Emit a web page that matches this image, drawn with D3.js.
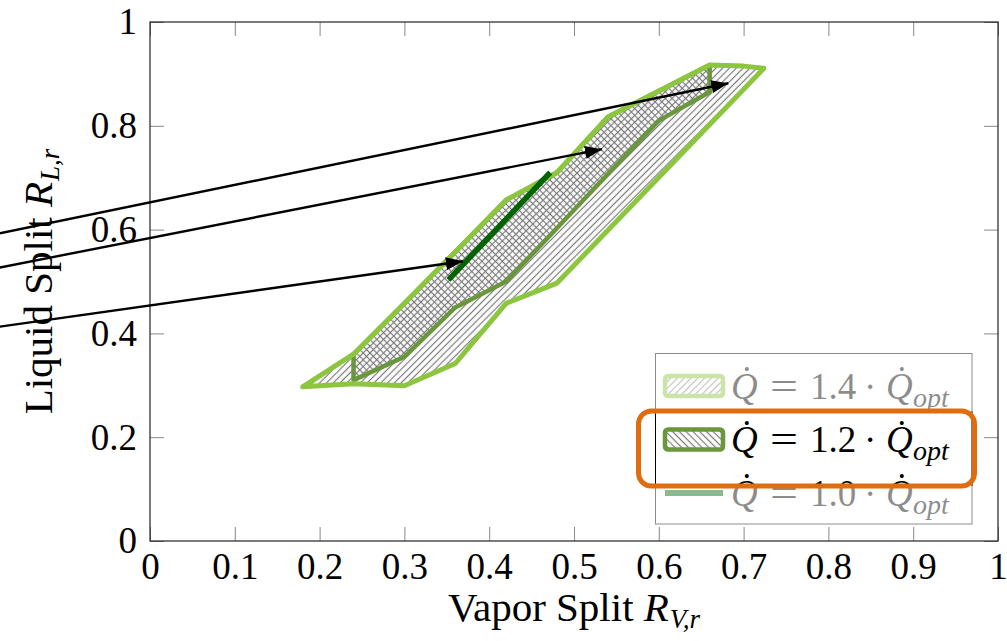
<!DOCTYPE html>
<html>
<head>
<meta charset="utf-8">
<script src="https://cdn.jsdelivr.net/npm/d3@7"></script>
<style>
  html, body { margin: 0; padding: 0; background: #fff; }
  svg { display: block; font-family: "Liberation Serif", "DejaVu Serif", serif; }
</style>
</head>
<body>
<svg id="chart" width="1007" height="641"></svg>
<script>
// Axis ticks
const xTickValues = [0, 0.1, 0.2, 0.3, 0.4, 0.5, 0.6, 0.7, 0.8, 0.9, 1];
const xTickLabels = ["0", "0.1", "0.2", "0.3", "0.4", "0.5", "0.6", "0.7", "0.8", "0.9", "1"];
const yTickValues = [0, 0.2, 0.4, 0.6, 0.8, 1];
const yTickLabels = ["0", "0.2", "0.4", "0.6", "0.8", "1"];

// Feasible split region for Q = 1.4 Q_opt (vapor split, liquid split)
const region14 = [
  [0.18, 0.297], [0.24, 0.36], [0.30, 0.458], [0.36, 0.557], [0.42, 0.657],
  [0.48, 0.71], [0.54, 0.817], [0.60, 0.867], [0.66, 0.917], [0.70, 0.915],
  [0.724, 0.911], [0.48, 0.497], [0.42, 0.458], [0.36, 0.342], [0.30, 0.299],
  [0.24, 0.303]
];

// Feasible split region for Q = 1.2 Q_opt
const region12 = [
  [0.24, 0.31], [0.30, 0.355], [0.36, 0.45], [0.42, 0.50], [0.48, 0.603],
  [0.54, 0.707], [0.60, 0.81], [0.66, 0.865], [0.66, 0.917], [0.60, 0.867],
  [0.54, 0.817], [0.48, 0.71], [0.42, 0.657], [0.36, 0.557], [0.30, 0.458],
  [0.24, 0.36]
];

// Feasible split line for Q = 1.0 Q_opt
const line10 = [[0.352, 0.503], [0.472, 0.71]];

// Arrows coming in from the left
const arrowStarts = [[-0.2, 0.585], [-0.2, 0.5196], [-0.2, 0.4077]];
const arrowEnds = [[0.682, 0.882], [0.533, 0.755], [0.369, 0.539]];

// Legend
const legendFactors = ["1.4", "1.2", "1.0"];
const legendKinds = ["area14", "area12", "line10"];

const colors = {
  light: "#8cc63f",
  olive: "#6a963c",
  dark: "#006400",
  hatch: "#7a7a7a",
  orange: "#e06c10"
};

const svg = d3.select("#chart");
const W = 1007, H = 641;
const margin = { left: 150, right: 9, top: 22, bottom: 100 };

const x = d3.scaleLinear().domain([0, 1]).range([margin.left, W - margin.right]);
const y = d3.scaleLinear().domain([0, 1]).range([H - margin.bottom, margin.top]);

const defs = svg.append("defs");

function hatch(id, angle) {
  const s = 4.8;
  const p = defs.append("pattern")
    .attr("id", id)
    .attr("patternUnits", "userSpaceOnUse")
    .attr("width", s).attr("height", s)
    .attr("patternTransform", `rotate(${angle})`);
  p.append("line")
    .attr("x1", s / 2).attr("y1", -1).attr("x2", s / 2).attr("y2", s + 1)
    .attr("stroke", colors.hatch).attr("stroke-width", 1.2);
}
hatch("neLines", 45);
hatch("nwLines", -45);

defs.append("marker")
  .attr("id", "arrowHead")
  .attr("viewBox", "0 0 17 13")
  .attr("refX", 17).attr("refY", 6.5)
  .attr("markerWidth", 17).attr("markerHeight", 13)
  .attr("markerUnits", "userSpaceOnUse")
  .attr("orient", "auto")
  .append("path").attr("d", "M0,0L17,6.5L0,13Z").attr("fill", "#000");

// Axes with inward ticks on all four sides
const tickLen = 14;
const tickFont = 37;
const titleFont = 41;

function styleAxis(g) {
  g.select(".domain").remove();
  g.selectAll(".tick line").attr("stroke", "#888").attr("stroke-width", 1);
  g.selectAll(".tick text").attr("fill", "#000").style("font-size", tickFont + "px")
    .style("font-family", '"Liberation Serif", serif');
}

svg.append("g")
  .attr("transform", `translate(0,${y(0)})`)
  .call(d3.axisBottom(x).tickValues(xTickValues).tickFormat((d, i) => xTickLabels[i])
    .tickSizeInner(-tickLen).tickSizeOuter(0).tickPadding(12))
  .call(styleAxis);

svg.append("g")
  .attr("transform", `translate(${x(0)},0)`)
  .call(d3.axisLeft(y).tickValues(yTickValues).tickFormat((d, i) => yTickLabels[i])
    .tickSizeInner(-tickLen).tickSizeOuter(0).tickPadding(13))
  .call(styleAxis);

svg.append("g")
  .attr("transform", `translate(0,${y(1)})`)
  .call(d3.axisTop(x).tickValues(xTickValues).tickFormat("")
    .tickSizeInner(-tickLen).tickSizeOuter(0))
  .call(styleAxis);

svg.append("g")
  .attr("transform", `translate(${x(1)},0)`)
  .call(d3.axisRight(y).tickValues(yTickValues).tickFormat("")
    .tickSizeInner(-tickLen).tickSizeOuter(0))
  .call(styleAxis);

svg.append("rect")
  .attr("x", x(0)).attr("y", y(1))
  .attr("width", x(1) - x(0)).attr("height", y(0) - y(1))
  .attr("fill", "none").attr("stroke", "#222").attr("stroke-width", 1.2);

// Regions
const poly = d3.line().x(d => x(d[0])).y(d => y(d[1])).curve(d3.curveLinearClosed);
const path = d3.line().x(d => x(d[0])).y(d => y(d[1]));

svg.append("path").attr("d", poly(region14)).attr("fill", "url(#neLines)").attr("stroke", "none");
svg.append("path").attr("d", poly(region12)).attr("fill", "url(#nwLines)").attr("stroke", "none");
svg.append("path").attr("d", poly(region12)).attr("fill", "none")
  .attr("stroke", colors.olive).attr("stroke-width", 4.5).attr("stroke-linejoin", "round");
svg.append("path").attr("d", poly(region14)).attr("fill", "none")
  .attr("stroke", colors.light).attr("stroke-width", 5).attr("stroke-linejoin", "round");
svg.append("path").attr("d", path(line10)).attr("fill", "none")
  .attr("stroke", colors.dark).attr("stroke-width", 5.5);

// Arrows
arrowStarts.forEach((s, i) => {
  svg.append("path")
    .attr("d", path([s, arrowEnds[i]]))
    .attr("fill", "none").attr("stroke", "#000").attr("stroke-width", 2.4)
    .attr("marker-end", "url(#arrowHead)");
});

// Axis titles
const xt = svg.append("text")
  .attr("x", (x(0) + x(1)) / 2).attr("y", 621)
  .attr("text-anchor", "middle").style("font-size", titleFont + "px");
xt.append("tspan").text("Vapor Split ");
xt.append("tspan").attr("font-style", "italic").text("R");
xt.append("tspan").attr("font-style", "italic").style("font-size", "27px").attr("dx", 1).attr("dy", 7).text("V,r");

const yt = svg.append("text")
  .attr("transform", `translate(52,${(y(0) + y(1)) / 2}) rotate(-90)`)
  .attr("text-anchor", "middle").style("font-size", titleFont + "px");
yt.append("tspan").text("Liquid Split ");
yt.append("tspan").attr("font-style", "italic").text("R");
yt.append("tspan").attr("font-style", "italic").style("font-size", "27px").attr("dx", 1).attr("dy", 7).text("L,r");

// Legend
const lg = svg.append("g");
const box = { x: 655.5, y: 353.5, w: 316.5, h: 170.5 };
lg.append("rect").attr("x", box.x).attr("y", box.y).attr("width", box.w).attr("height", box.h)
  .attr("fill", "#fff").attr("stroke", "#000").attr("stroke-width", 1);

const rowY = legendFactors.map((_, i) => 386 + i * 53.5);

legendFactors.forEach((f, i) => {
  const cy = rowY[i];
  const kind = legendKinds[i];
  if (kind === "area14" || kind === "area12") {
    lg.append("rect")
      .attr("x", 665).attr("y", cy - 10).attr("width", 58).attr("height", 20).attr("rx", 3)
      .attr("fill", kind === "area14" ? "url(#neLines)" : "url(#nwLines)")
      .attr("stroke", kind === "area14" ? colors.light : colors.olive)
      .attr("stroke-width", 4.5);
  } else {
    lg.append("line").attr("x1", 665).attr("x2", 723).attr("y1", cy).attr("y2", cy)
      .attr("stroke", colors.dark).attr("stroke-width", 6);
  }
  const base = cy + 12.5;
  const t = lg.append("text").attr("y", base).style("font-size", "37px").attr("fill", "#000");
  t.append("tspan").attr("x", 731).attr("font-style", "italic").text("Q\u0307");
  t.append("tspan").attr("x", 770).attr("textLength", 28).attr("lengthAdjust", "spacingAndGlyphs").text("=");
  t.append("tspan").attr("x", 810).text(f);
  t.append("tspan").attr("x", 864).text("·");
  t.append("tspan").attr("x", 886).attr("font-style", "italic").text("Q\u0307");
  t.append("tspan").attr("x", 913).attr("dy", 8).attr("font-style", "italic").style("font-size", "28px").text("opt");
});

// Fade the legend rows outside the highlight
const hiTop = 411, hiBot = 486;
lg.append("rect").attr("x", box.x - 1).attr("y", box.y - 1).attr("width", box.w + 2).attr("height", hiTop - box.y + 1)
  .attr("fill", "#fff").attr("opacity", 0.55);
lg.append("rect").attr("x", box.x - 1).attr("y", hiBot).attr("width", box.w + 2).attr("height", box.y + box.h - hiBot + 1)
  .attr("fill", "#fff").attr("opacity", 0.55);

// Highlight frame around the Q = 1.2 entry
svg.append("rect")
  .attr("x", 638.5).attr("y", hiTop).attr("width", 336).attr("height", hiBot - hiTop).attr("rx", 13)
  .attr("fill", "none").attr("stroke", colors.orange).attr("stroke-width", 5);
</script>
</body>
</html>
